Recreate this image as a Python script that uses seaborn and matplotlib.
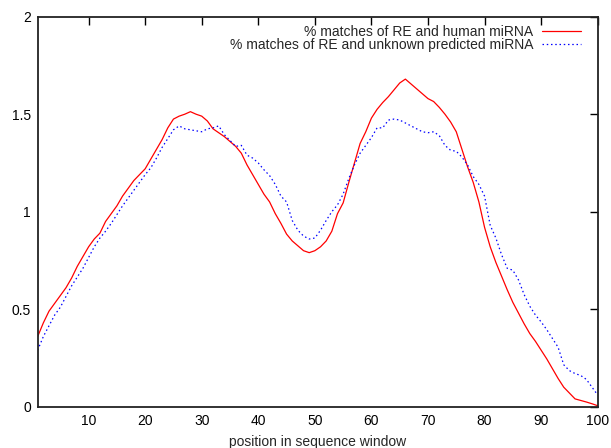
import numpy as np
import pandas as pd
import matplotlib
matplotlib.use('Agg')
import matplotlib.pyplot as plt
import seaborn as sns

positions = list(range(1, 101))

human_mirna = [
    0.36, 0.43, 0.49, 0.53, 0.57, 0.61, 0.66, 0.72, 0.77, 0.82,
    0.86, 0.89, 0.95, 0.99, 1.03, 1.08, 1.12, 1.16, 1.19, 1.22,
    1.27, 1.32, 1.37, 1.43, 1.475, 1.49, 1.50, 1.513, 1.50, 1.49,
    1.465, 1.425, 1.405, 1.385, 1.36, 1.335, 1.30, 1.24, 1.19, 1.14,
    1.09, 1.05, 0.99, 0.94, 0.885, 0.85, 0.825, 0.80, 0.79, 0.80,
    0.82, 0.85, 0.90, 0.99, 1.045, 1.15, 1.25, 1.35, 1.41, 1.48,
    1.525, 1.56, 1.59, 1.625, 1.66, 1.68, 1.655, 1.63, 1.605, 1.58,
    1.565, 1.535, 1.50, 1.46, 1.41, 1.32, 1.23, 1.15, 1.05, 0.92,
    0.82, 0.74, 0.67, 0.60, 0.535, 0.48, 0.425, 0.375, 0.335, 0.29,
    0.245, 0.195, 0.145, 0.10, 0.07, 0.04, 0.032, 0.024, 0.015, 0.005,
]

predicted_mirna = [
    0.29, 0.36, 0.415, 0.47, 0.51, 0.565, 0.62, 0.665, 0.71, 0.765,
    0.82, 0.865, 0.90, 0.94, 0.985, 1.03, 1.07, 1.11, 1.15, 1.19,
    1.225, 1.275, 1.33, 1.375, 1.42, 1.44, 1.425, 1.42, 1.415, 1.41,
    1.425, 1.43, 1.44, 1.395, 1.365, 1.335, 1.34, 1.29, 1.275, 1.25,
    1.215, 1.185, 1.14, 1.08, 1.05, 0.955, 0.905, 0.875, 0.86, 0.865,
    0.905, 0.955, 1.00, 1.035, 1.09, 1.17, 1.24, 1.30, 1.34, 1.38,
    1.43, 1.43, 1.47, 1.475, 1.47, 1.455, 1.44, 1.425, 1.41, 1.405,
    1.41, 1.39, 1.34, 1.315, 1.31, 1.28, 1.24, 1.18, 1.14, 1.08,
    0.93, 0.865, 0.78, 0.71, 0.70, 0.65, 0.575, 0.515, 0.47, 0.435,
    0.395, 0.35, 0.305, 0.215, 0.185, 0.17, 0.16, 0.14, 0.10, 0.06,
]

label_human = '% matches of RE and human miRNA'
label_pred = '% matches of RE and unknown predicted miRNA'

x_ticks = [10, 20, 30, 40, 50, 60, 70, 80, 90, 100]
y_ticks = [0, 0.5, 1, 1.5, 2]
y_tick_labels = ['0', '0.5', '1', '1.5', '2']

sns.set_style('white')
plt.rcParams['font.family'] = ['Liberation Sans', 'DejaVu Sans']
plt.rcParams['font.size'] = 10

fig = plt.figure(figsize=(6.11, 4.48), dpi=100)
ax = fig.add_axes([0.0617, 0.0922, 0.9165, 0.8705])

df = pd.DataFrame({'pos': positions, 'human': human_mirna, 'pred': predicted_mirna})
sns.lineplot(data=df, x='pos', y='human', ax=ax, color='#ff0000', lw=0.9,
             label=label_human)
sns.lineplot(data=df, x='pos', y='pred', ax=ax, color='#0000ff', lw=0.9,
             dashes=False, label=label_pred)
ax.lines[1].set_dashes((1.2, 2.2))

ax.set_xlim(1, 100)
ax.set_ylim(0, 2)
ax.set_xticks(x_ticks)
ax.set_yticks(y_ticks)
ax.set_yticklabels(y_tick_labels)
ax.tick_params(direction='in', length=6, width=1, top=True, right=True,
               labeltop=False, labelright=False, pad=5, colors='black',
               labelsize=10)
for s in ax.spines.values():
    s.set_color('#222222')
    s.set_linewidth(1.3)

ax.set_xlabel('position in sequence window', fontsize=10, labelpad=5)
ax.set_ylabel('')

ax.legend(loc='upper right', bbox_to_anchor=(0.988, 1.004), frameon=False,
          markerfirst=False, handlelength=2.8, handletextpad=0.65,
          labelspacing=-0.05, borderpad=0.2, fontsize=10)

fig.savefig('out.png', dpi=100)
